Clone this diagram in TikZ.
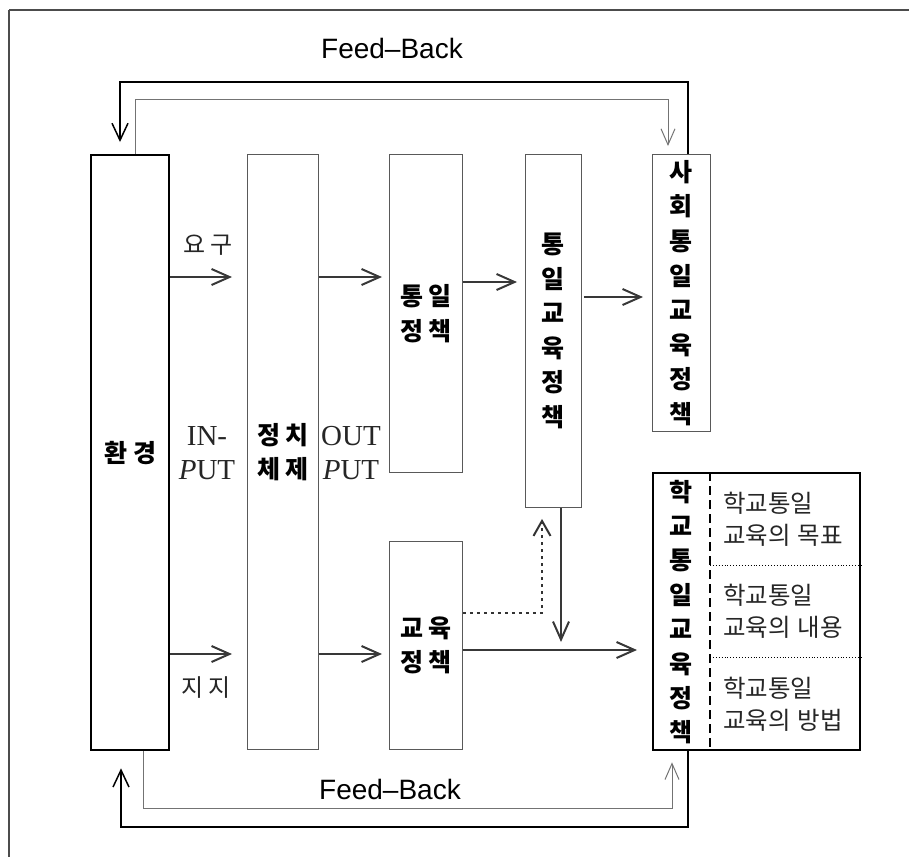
\documentclass[tikz,border=0pt]{standalone}
\usepackage{fontspec}
\setmainfont{Liberation Serif}
\newfontfamily\kr{Noto Sans CJK KR}
\newfontfamily\lsans{Liberation Sans}
\usetikzlibrary{arrows.meta}
\begin{document}
\begin{tikzpicture}[x=1pt,y=-1pt,
  box/.style={draw=black!65, line width=0.9pt, inner sep=0pt, anchor=north west, align=center,
    font=\kr\bfseries\fontsize{25pt}{34.6pt}\selectfont},
  thickbox/.style={box, draw=black, line width=2.3pt},
  arr/.style={draw=black!78, line width=2pt, -{Straight Barb[length=18pt,width=16pt]}},
  dotarr/.style={draw=black!80, line width=2pt, dash pattern=on 3pt off 4pt,
    -{Straight Barb[length=15pt,width=17pt,sep=0pt]}},
  fbo/.style={draw=black, line width=1.5pt, -{Straight Barb[length=17pt,width=16pt]}},
  fbi/.style={draw=black!55, line width=1pt, -{Straight Barb[length=16pt,width=14pt]}},
  lbl/.style={inner sep=0pt, font=\kr\fontsize{24pt}{32pt}\selectfont, text=black!85},
  io/.style={inner sep=0pt, align=center, font=\fontsize{29pt}{34pt}\selectfont, text=black!85},
  fb/.style={inner sep=0pt, font=\lsans\fontsize{28pt}{30pt}\selectfont},
  sub/.style={inner sep=0pt, anchor=west, align=left, font=\kr\fontsize{24.5pt}{32pt}\selectfont, text=black!85}
]
\useasboundingbox (0,0) rectangle (909,857);
% frame (top and left edges)
\draw[black!70, line width=1.8pt] (9,10) -- (909,10);
\draw[black!70, line width=1.2pt] (9,10) -- (9,857);

% boxes
\node[thickbox, minimum width=78pt, minimum height=595pt] (env) at (90,154) {환 경};
\node[box, minimum width=71pt, minimum height=595pt] (pol) at (247,154) {정 치\\체 제};
\node[box, minimum width=73pt, minimum height=318pt] (uni) at (389,154) {통 일\\정 책};
\node[box, minimum width=73pt, minimum height=208pt] (edu) at (389,541) {교 육\\정 책};
\node[box, minimum width=56pt, minimum height=353pt] (ued) at (525,154) {통\\일\\교\\육\\정\\책};
\node[box, minimum width=58pt, minimum height=277pt] (soc) at (652,154) {사\\회\\통\\일\\교\\육\\정\\책};
\node[thickbox, minimum width=207pt, minimum height=277pt] (sch) at (652,472) {};
\node[inner sep=0pt, align=center, font=\kr\bfseries\fontsize{25pt}{34.4pt}\selectfont] (schlbl) at (681,612)
  {학\\교\\통\\일\\교\\육\\정\\책};

% inside school box
\coordinate (divt) at (sch.north west -| 710,0);
\coordinate (divb) at (sch.south west -| 710,0);
\draw[black, line width=1.5pt, dash pattern=on 9pt off 5pt] (divt) -- (divb);
\draw[black, line width=0.9pt, dotted] (divt |- 0,565) -- (sch.east |- 0,565);
\draw[black, line width=0.9pt, dotted] (divt |- 0,657) -- (sch.east |- 0,657);
\node[sub] (s1) at (723,519) {학교통일\\교육의\hspace{7pt}목표};
\node[sub] (s2) at (723,611) {학교통일\\교육의\hspace{7pt}내용};
\node[sub] (s3) at (723,704) {학교통일\\교육의\hspace{7pt}방법};

% labels
\node[lbl] (yogu) at (208,245) {요 구};
\node[lbl] (jiji) at (206,687) {지 지};
\node[io] (input) at (207,453) {IN-\\\textit{P}UT};
\node[io] (output) at (351,453) {OUT\\\textit{P}UT};
\node[fb] (fbtop) at (392,48) {Feed–Back};
\node[fb] (fbbot) at (390,789) {Feed–Back};

% main arrows
\draw[arr, shorten >=15pt] (env.east |- 0,277) -- (pol.west |- 0,277);
\draw[arr, shorten >=7pt] (pol.east |- 0,277) -- (uni.west |- 0,277);
\draw[arr, shorten >=8pt] (uni.east |- 0,282) -- (ued.west |- 0,282);
\draw[arr, shorten >=9pt, shorten <=2pt] (ued.east |- 0,297) -- (soc.west |- 0,297);
\draw[arr, shorten >=15pt] (env.east |- 0,654) -- (pol.west |- 0,654);
\draw[arr, shorten >=7pt] (pol.east |- 0,654) -- (edu.west |- 0,654);
\draw[arr, shorten >=15pt] (edu.east |- 0,650) -- (sch.west |- 0,650);
\coordinate (joinpt) at (ued.south -| 561,0);
\coordinate (joinend) at (561,642);
\draw[arr] (joinpt) -- (joinend);
\coordinate (dotcorner) at (542,613);
\draw[dotarr, shorten >=11pt] (edu.east |- dotcorner) -- (dotcorner) -- (ued.south -| dotcorner);

% feedback loops
\coordinate (tl1) at (120,82);
\coordinate (tr1) at (688,82);
\draw[fbo, shorten >=12pt] (soc.north -| tr1) -- (tr1) -- (tl1) -- (env.north -| tl1);
\coordinate (tl2) at (135,99);
\coordinate (tr2) at (668,99);
\draw[fbi, shorten >=8pt] (env.north -| tl2) -- (tl2) -- (tr2) -- (soc.north -| tr2);
\coordinate (bl2) at (143,808);
\coordinate (br2) at (672,808);
\draw[fbi, shorten >=11pt] (env.south -| bl2) -- (bl2) -- (br2) -- (sch.south -| br2);
\coordinate (bl1) at (121,827);
\coordinate (br1) at (688,827);
\draw[fbo, shorten >=17pt] (sch.south -| br1) -- (br1) -- (bl1) -- (env.south -| bl1);
\end{tikzpicture}
\end{document}
